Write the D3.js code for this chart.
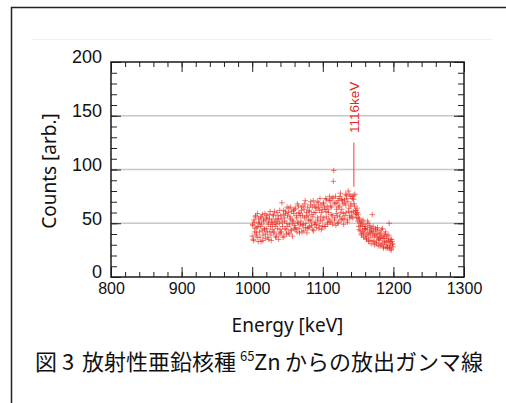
<!DOCTYPE html>
<html lang="ja">
    <head>
        <meta charset="utf-8">
        <title>65Zn gamma spectrum</title>
        <script src="https://d3js.org/d3.v7.min.js"></script>
        <style type="text/css">
        body { margin: 0; background: #fff; }
        </style>
    </head>
    <body>
        <script type="text/javascript">

//1. Data
const xTicks = [800, 900, 1000, 1100, 1200, 1300];
const yTicks = [0, 50, 100, 150, 200];
const gridValues = [50, 100, 150];

// channel energies (keV), two interleaved sweeps
const energiesA = d3.range(1000, 1200, 1);
const energiesB = d3.range(1000.5, 1200, 1);

const countsA = [
    38, 48, 34, 51, 45, 57, 41, 37, 47, 54,
    51, 37, 47, 56, 43, 34, 53, 45, 59, 40,
    45, 55, 37, 51, 58, 42, 47, 34, 53, 49,
    57, 42, 51, 37, 49, 60, 45, 54, 40, 62,
    41, 54, 69, 47, 58, 38, 52, 61, 44, 50,
    57, 41, 64, 49, 54, 44, 61, 38, 52, 59,
    48, 64, 44, 55, 68, 50, 60, 41, 57, 52,
    62, 48, 66, 43, 55, 71, 50, 60, 45, 57,
    46, 61, 53, 70, 48, 65, 56, 43, 67, 51,
    60, 46, 70, 53, 65, 48, 73, 56, 44, 63,
    53, 69, 47, 63, 73, 56, 66, 49, 60, 71,
    52, 66, 58, 73, 49, 89, 69, 55, 75, 59,
    69, 50, 65, 73, 56, 78, 53, 63, 71, 59,
    54, 69, 77, 60, 73, 51, 80, 64, 57, 75,
    68, 56, 73, 61, 76, 66, 58, 62, 55, 60,
    58, 47, 54, 43, 50, 39, 47, 53, 41, 45,
    38, 47, 35, 44, 50, 33, 41, 46, 37, 43,
    58, 34, 42, 30, 39, 45, 32, 37, 43, 35,
    40, 29, 37, 44, 31, 36, 27, 39, 33, 42,
    30, 38, 27, 34, 50, 29, 35, 26, 33, 31
];

const countsB = [
    49, 35, 53, 42, 56, 39, 46, 59, 33, 50,
    42, 55, 33, 49, 58, 39, 52, 44, 36, 54,
    57, 42, 49, 35, 54, 61, 39, 51, 44, 58,
    41, 61, 47, 54, 38, 52, 57, 35, 50, 44,
    57, 42, 51, 37, 62, 55, 45, 59, 40, 65,
    47, 60, 40, 56, 65, 43, 53, 50, 62, 45,
    63, 46, 57, 42, 51, 66, 45, 59, 49, 65,
    42, 57, 49, 63, 68, 46, 56, 41, 65, 53,
    62, 47, 67, 52, 58, 44, 71, 60, 49, 65,
    49, 64, 55, 69, 45, 62, 52, 67, 60, 47,
    68, 55, 65, 47, 61, 72, 51, 63, 54, 75,
    71, 51, 65, 57, 74, 99, 53, 68, 48, 63,
    57, 71, 51, 66, 75, 60, 72, 54, 68, 49,
    72, 57, 67, 76, 53, 70, 61, 77, 55, 66,
    60, 75, 55, 72, 68, 77, 62, 59, 64, 52,
    55, 44, 51, 48, 40, 52, 42, 37, 49, 44,
    45, 36, 40, 52, 39, 34, 48, 42, 31, 45,
    40, 47, 33, 38, 44, 31, 40, 46, 29, 36,
    34, 41, 30, 38, 45, 28, 36, 32, 40, 27,
    36, 28, 33, 39, 27, 32, 25, 35, 30, 28
];

// peak marker
const peakEnergy = 1144;
const peakLineFrom = 84;
const peakLineTo = 125;
const peakLabelAt = 134;
const peakLabel = "1116keV";

//2. Layout
const svgWidth = 506;
const svgHeight = 403;
const plotLeft = 111, plotRight = 464, plotTop = 62, plotBottom = 277;

const points = energiesA.map((e, i) => ({e: e, c: countsA[i]}))
    .concat(energiesB.map((e, i) => ({e: e, c: countsB[i]})));

//3. Scales
const xScale = d3.scaleLinear()
    .domain([800, 1300])
    .range([plotLeft, plotRight]);

const yScale = d3.scaleLinear()
    .domain([0, 200])
    .range([plotBottom, plotTop]);

//4. SVG
const svg = d3.select("body")
    .append("svg")
    .attr("width", svgWidth)
    .attr("height", svgHeight);

svg.append("rect")
    .attr("width", svgWidth)
    .attr("height", svgHeight)
    .attr("fill", "#fff");

// outer frame and faint rule
svg.append("path")
    .attr("d", "M11.5,403V7.5H506")
    .attr("fill", "none")
    .attr("stroke", "#222")
    .attr("stroke-width", 1.5);

svg.append("line")
    .attr("x1", 32).attr("x2", 493)
    .attr("y1", 39.5).attr("y2", 39.5)
    .attr("stroke", "#f1f1f1");

//5. Grid
svg.append("g")
    .selectAll("line")
    .data(gridValues)
    .join("line")
    .attr("x1", plotLeft).attr("x2", plotRight)
    .attr("y1", d => yScale(d)).attr("y2", d => yScale(d))
    .attr("stroke", "#c8c8c8")
    .attr("stroke-width", 1.5);

//6. Axes (ticks pointing inward on all four sides)
function styleAxis(g) {
    g.select(".domain").remove();
    g.selectAll("line").attr("stroke", "#222");
}

const minorX = xScale.ticks(25);
const minorY = yScale.ticks(20);

svg.append("g")
    .attr("transform", "translate(0," + plotBottom + ")")
    .call(d3.axisBottom(xScale).tickValues(minorX).tickSize(-5).tickFormat(""))
    .call(styleAxis);
svg.append("g")
    .attr("transform", "translate(0," + plotTop + ")")
    .call(d3.axisTop(xScale).tickValues(minorX).tickSize(-5).tickFormat(""))
    .call(styleAxis);
svg.append("g")
    .attr("transform", "translate(" + plotLeft + ",0)")
    .call(d3.axisLeft(yScale).tickValues(minorY).tickSize(-6).tickFormat(""))
    .call(styleAxis);
svg.append("g")
    .attr("transform", "translate(" + plotRight + ",0)")
    .call(d3.axisRight(yScale).tickValues(minorY).tickSize(-6).tickFormat(""))
    .call(styleAxis);

const bottomAxis = svg.append("g")
    .attr("transform", "translate(0," + plotBottom + ")")
    .call(d3.axisBottom(xScale).tickValues(xTicks).tickSize(-10).tickPadding(6).tickFormat(d3.format("d")))
    .call(styleAxis);
bottomAxis.selectAll("text")
    .attr("font-family", "'Liberation Sans', Arial, sans-serif")
    .attr("font-size", "16px")
    .attr("fill", "#111");

svg.append("g")
    .attr("transform", "translate(0," + plotTop + ")")
    .call(d3.axisTop(xScale).tickValues(xTicks).tickSize(-10).tickFormat(""))
    .call(styleAxis);

const leftAxis = svg.append("g")
    .attr("transform", "translate(" + plotLeft + ",0)")
    .call(d3.axisLeft(yScale).tickValues(yTicks).tickSize(-10).tickPadding(9))
    .call(styleAxis);
leftAxis.selectAll("text")
    .attr("dy", "0.05em")
    .attr("font-family", "'Liberation Sans', Arial, sans-serif")
    .attr("font-size", "18px")
    .attr("fill", "#111");

svg.append("g")
    .attr("transform", "translate(" + plotRight + ",0)")
    .call(d3.axisRight(yScale).tickValues(yTicks).tickSize(-10).tickFormat(""))
    .call(styleAxis);

// plot frame
svg.append("rect")
    .attr("x", plotLeft).attr("y", plotTop)
    .attr("width", plotRight - plotLeft)
    .attr("height", plotBottom - plotTop)
    .attr("fill", "none")
    .attr("stroke", "#1a1a1a")
    .attr("stroke-width", 1.5);

//7. Points as "+" markers
const s = 2.8;
svg.append("g")
    .selectAll("path")
    .data(points)
    .join("path")
    .attr("d", d => {
        const x = xScale(d.e), y = yScale(d.c);
        return "M" + (x - s) + "," + y + "H" + (x + s) + "M" + x + "," + (y - s) + "V" + (y + s);
    })
    .attr("stroke", "#e8261c")
    .attr("stroke-opacity", 0.6)
    .attr("stroke-width", 1);

//8. Peak marker
svg.append("line")
    .attr("x1", xScale(peakEnergy)).attr("x2", xScale(peakEnergy))
    .attr("y1", yScale(peakLineFrom)).attr("y2", yScale(peakLineTo))
    .attr("stroke", "#f03a3a")
    .attr("stroke-width", 1);

svg.append("text")
    .attr("transform", "translate(" + (xScale(peakEnergy) + 5) + "," + yScale(peakLabelAt) + ") rotate(-90)")
    .attr("font-family", "'Liberation Sans', Arial, sans-serif")
    .attr("font-size", "13.5px")
    .attr("fill", "#e8261c")
    .text(peakLabel);

//9. Axis titles and caption
svg.append("text")
    .attr("x", (plotLeft + plotRight) / 2)
    .attr("y", 332)
    .attr("text-anchor", "middle")
    .attr("font-family", "'Noto Sans', sans-serif")
    .attr("font-size", "19px")
    .attr("fill", "#111")
    .text("Energy [keV]");

svg.append("text")
    .attr("transform", "translate(56,171) rotate(-90)")
    .attr("text-anchor", "middle")
    .attr("font-family", "'Noto Sans', sans-serif")
    .attr("font-size", "19px")
    .attr("fill", "#111")
    .text("Counts [arb.]");

const caption = svg.append("text")
    .attr("y", 370)
    .attr("font-family", "'Noto Sans CJK JP', sans-serif")
    .attr("font-size", "22px")
    .attr("fill", "#111");
caption.append("tspan").attr("x", 35).text("図");
caption.append("tspan").attr("x", 62).text("3");
caption.append("tspan").attr("x", 82).text("放射性亜鉛核種");
caption.append("tspan").attr("x", 240).attr("dy", -9).attr("font-size", "13px").text("65");
caption.append("tspan").attr("x", 254).attr("dy", 9).text("Zn");
caption.append("tspan").attr("x", 285).text("からの放出ガンマ線");

</script>
</body>
</html>
